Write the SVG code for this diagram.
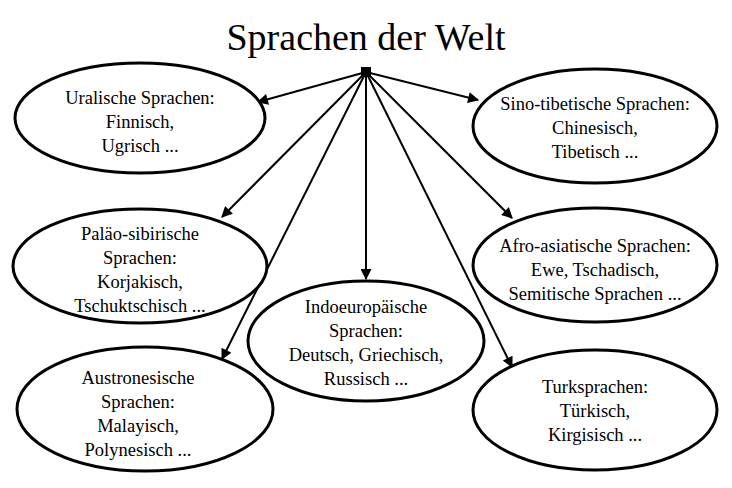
<svg xmlns="http://www.w3.org/2000/svg" width="732" height="488" viewBox="0 0 732 488">
<style>
.n ellipse{fill:#fff;stroke:#000;stroke-width:3}
.n text{font-family:"Liberation Serif","DejaVu Serif",serif;font-size:18.5px;text-anchor:middle;fill:#000}
.c line{stroke:#000;stroke-width:2;marker-end:url(#a)}
.t{font-family:"Liberation Serif","DejaVu Serif",serif;font-size:38px;text-anchor:middle}
</style>
<defs><marker id="a" viewBox="0 0 10 10" refX="9" refY="5" markerWidth="13" markerHeight="11" orient="auto" markerUnits="userSpaceOnUse"><path d="M0,0L10,5L0,10z"/></marker></defs>
<rect width="732" height="488" fill="#fff"/>
<text class="t" x="366" y="50">Sprachen der Welt</text>
<g class="c">
<line x1="366" y1="72" x2="258" y2="102"/>
<line x1="366" y1="72" x2="478" y2="100"/>
<line x1="366" y1="72" x2="222" y2="217"/>
<line x1="366" y1="72" x2="512" y2="218"/>
<line x1="366" y1="72" x2="366" y2="279"/>
<line x1="366" y1="72" x2="222" y2="359"/>
<line x1="366" y1="72" x2="512" y2="367"/>
</g>
<rect x="361" y="67" width="10" height="10" fill="#000"/>
<g id="uralisch" class="n"><ellipse cx="140" cy="118" rx="125" ry="55"/><text x="140" y="104">Uralische Sprachen:</text><text x="140" y="128">Finnisch,</text><text x="140" y="152">Ugrisch ...</text></g>
<g id="sino" class="n"><ellipse cx="595" cy="126" rx="122" ry="57"/><text x="595" y="110">Sino-tibetische Sprachen:</text><text x="595" y="134">Chinesisch,</text><text x="595" y="158">Tibetisch ...</text></g>
<g id="palaeo" class="n"><ellipse cx="140" cy="266" rx="127" ry="57"/><text x="140" y="240">Paläo-sibirische</text><text x="140" y="264">Sprachen:</text><text x="140" y="288">Korjakisch,</text><text x="140" y="312">Tschuktschisch ...</text></g>
<g id="afro" class="n"><ellipse cx="595" cy="265" rx="122" ry="57"/><text x="595" y="252">Afro-asiatische Sprachen:</text><text x="595" y="276">Ewe, Tschadisch,</text><text x="595" y="300">Semitische Sprachen ...</text></g>
<g id="indo" class="n"><ellipse cx="366" cy="341" rx="118" ry="60"/><text x="366" y="313">Indoeuropäische</text><text x="366" y="337">Sprachen:</text><text x="366" y="361">Deutsch, Griechisch,</text><text x="366" y="385">Russisch ...</text></g>
<g id="austro" class="n"><ellipse cx="145" cy="409" rx="128" ry="62"/><text x="138" y="384">Austronesische</text><text x="138" y="408">Sprachen:</text><text x="138" y="432">Malayisch,</text><text x="138" y="456">Polynesisch ...</text></g>
<g id="turk" class="n"><ellipse cx="595" cy="410" rx="122" ry="60"/><text x="595" y="393">Turksprachen:</text><text x="595" y="417">Türkisch,</text><text x="595" y="441">Kirgisisch ...</text></g>
</svg>
